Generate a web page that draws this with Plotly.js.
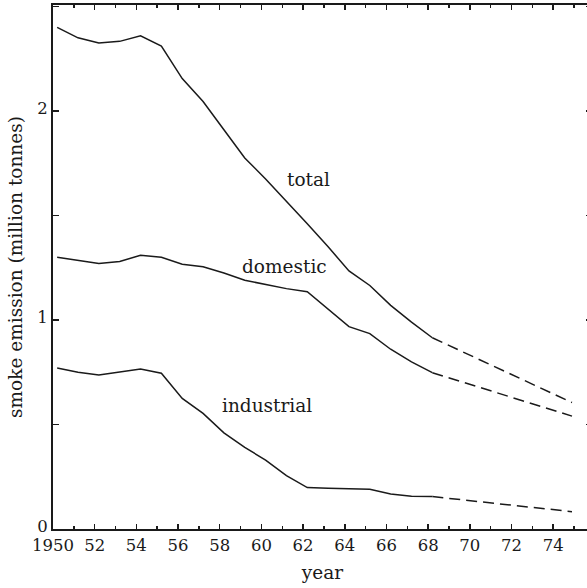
<!DOCTYPE html>
<html>
<head>
<meta charset="utf-8">
<script src="https://cdn.plot.ly/plotly-3.0.1.min.js"></script>
<style>
  html, body { margin: 0; padding: 0; overflow: hidden; background: #ffffff; }
  #chart { width: 592px; height: 588px; }
</style>
</head>
<body>
<div id="chart"></div>
<script>
// Years (points sit just after each year tick)
const years = [1950.2, 1951.2, 1952.2, 1953.2, 1954.2, 1955.2, 1956.2, 1957.2, 1958.2, 1959.2,
               1960.2, 1961.2, 1962.2, 1963.2, 1964.2, 1965.2, 1966.2, 1967.2, 1968.2];
const total =      [2.40, 2.35, 2.325, 2.333, 2.36, 2.31, 2.155, 2.045, 1.91, 1.775,
                    1.675, 1.57, 1.46, 1.35, 1.235, 1.165, 1.07, 0.99, 0.915];
const domestic =   [1.30, 1.285, 1.27, 1.28, 1.31, 1.30, 1.267, 1.255, 1.225, 1.19,
                    1.17, 1.15, 1.135, 1.05, 0.968, 0.935, 0.86, 0.80, 0.748];
const industrial = [0.77, 0.75, 0.737, 0.752, 0.765, 0.745, 0.625, 0.553, 0.46, 0.39,
                    0.33, 0.255, 0.198, 0.195, 0.193, 0.19, 0.168, 0.157, 0.155];

// Projected (dashed) continuation
const projYears = [1968.2, 1974.9];
const totalProj = [0.915, 0.605];
const domesticProj = [0.748, 0.54];
const industrialProj = [0.155, 0.083];

const xTickVals = [1950, 1952, 1954, 1956, 1958, 1960, 1962, 1964, 1966, 1968, 1970, 1972, 1974];
const xTickText = ['1950', '52', '54', '56', '58', '60', '62', '64', '66', '68', '70', '72', '74'];
const yTickVals = [0, 1, 2];
const yTickText = ['0', '1', '2'];

const seriesLabels = ['total', 'domestic', 'industrial'];
const labelX = [1962.25, 1961.12, 1960.26];
const labelY = [1.67, 1.258, 0.589];

const ink = '#1a1a1a';
const serif = 'DejaVu Serif';

function solid(y, name) {
  return { x: years, y: y, name: name, mode: 'lines', type: 'scatter',
           line: { color: ink, width: 1.5 }, hoverinfo: 'skip' };
}
function dashed(y, name) {
  return { x: projYears, y: y, name: name + ' (projected)', mode: 'lines', type: 'scatter',
           line: { color: ink, width: 1.5, dash: '11px,6px' }, hoverinfo: 'skip' };
}

const data = [
  solid(total, 'total'), solid(domestic, 'domestic'), solid(industrial, 'industrial'),
  dashed(totalProj, 'total'), dashed(domesticProj, 'domestic'), dashed(industrialProj, 'industrial')
];

const annotations = seriesLabels.map((t, i) => ({
  x: labelX[i], y: labelY[i], xref: 'x', yref: 'y', text: t, showarrow: false,
  xanchor: 'center', yanchor: 'middle',
  font: { family: serif, size: 18.5, color: ink }
}));

const layout = {
  width: 592, height: 588,
  margin: { l: 53, r: 0, t: 5, b: 59 },
  paper_bgcolor: '#ffffff', plot_bgcolor: '#ffffff',
  showlegend: false,
  font: { family: serif, color: ink },
  xaxis: {
    range: [1950, 1975.86],
    showgrid: false, zeroline: false,
    showline: true, linecolor: ink, linewidth: 2, mirror: 'allticks',
    ticks: 'inside', ticklen: 5, tickwidth: 1.5, tickcolor: ink,
    tickvals: xTickVals, ticktext: xTickText,
    tickfont: { family: serif, size: 16.5, color: ink },
    minor: { ticks: 'inside', dtick: 1, tick0: 1950, ticklen: 3, tickwidth: 1.5, tickcolor: ink, showgrid: false },
    title: { text: 'year', font: { family: serif, size: 18.5, color: ink }, standoff: 12 }
  },
  yaxis: {
    range: [0, 2.507],
    showgrid: false, zeroline: false,
    showline: true, linecolor: ink, linewidth: 2, mirror: 'ticks',
    ticks: 'inside', ticklen: 6, tickwidth: 1.5, tickcolor: ink,
    tickvals: yTickVals, ticktext: yTickText,
    tickfont: { family: serif, size: 16.5, color: ink },
    ticklabelshift: -3,
    minor: { ticks: 'inside', dtick: 0.5, tick0: 0, ticklen: 6, tickwidth: 1.5, tickcolor: ink, showgrid: false },
    title: { text: 'smoke emission (million tonnes)', font: { family: serif, size: 18.5, color: ink }, standoff: 10 }
  },
  annotations: annotations
};

Plotly.newPlot('chart', data, layout, { staticPlot: true, displayModeBar: false });
</script>
</body>
</html>
